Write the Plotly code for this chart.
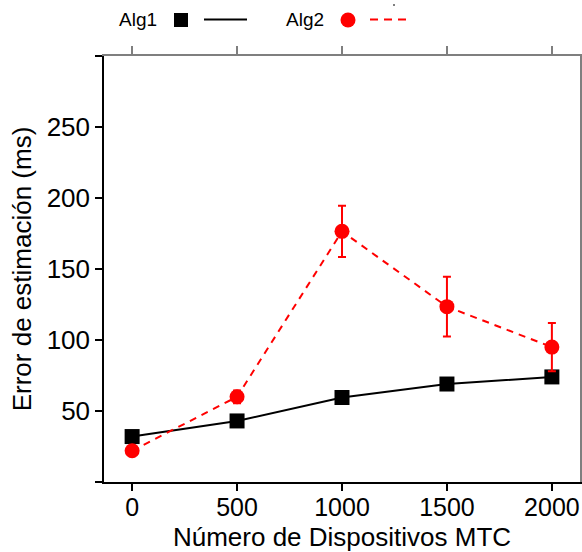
import plotly.graph_objects as go

# ---- data ----
devices = [0, 500, 1000, 1500, 2000]
alg1 = [32, 43, 59.5, 69, 74]
alg2 = [22, 60, 176.5, 123.5, 95]
alg2_err = [0, 4.5, 18, 21, 17]

y_tickvals = [0, 50, 100, 150, 200, 250, 300]
y_ticktext = ["", "50", "100", "150", "200", "250", ""]
x_tickvals = [0, 500, 1000, 1500, 2000]

FONT = "Liberation Sans, Arial, sans-serif"
W, H = 582, 552
ML, MR, MT, MB = 104, 2, 56, 70
PW, PH = W - ML - MR, H - MT - MB

def px(x):
    return (x - ML) / PW

def py(y):
    return (H - MB - y) / PH

fig = go.Figure()

fig.add_trace(go.Scatter(
    x=devices, y=alg1, mode="lines+markers", name="Alg1",
    line=dict(color="black", width=2),
    marker=dict(symbol="square", size=15, color="black"),
    showlegend=False,
))
fig.add_trace(go.Scatter(
    x=devices, y=alg2, mode="lines+markers", name="Alg2",
    line=dict(color="red", width=2, dash="7px,6px"),
    marker=dict(symbol="circle", size=15, color="red"),
    error_y=dict(type="data", array=alg2_err, visible=True,
                 color="red", thickness=2, width=4),
    showlegend=False,
))
# invisible trace to anchor the mirrored (grey) top/right axes
fig.add_trace(go.Scatter(
    x=devices, y=alg1, xaxis="x2", yaxis="y2", mode="markers",
    marker=dict(opacity=0), hoverinfo="skip", showlegend=False,
))

fig.update_layout(
    width=W, height=H,
    margin=dict(l=ML, r=MR, t=MT, b=MB, autoexpand=False),
    paper_bgcolor="white", plot_bgcolor="white",
    font=dict(family=FONT, color="black"),
    xaxis=dict(
        range=[-134, 2134], tickvals=x_tickvals, automargin=False,
        showline=True, linecolor="black", linewidth=1.5,
        ticks="outside", ticklen=7, tickwidth=1.5, tickcolor="black",
        showgrid=False, zeroline=False, ticklabelstandoff=-5,
        tickfont=dict(size=25, family=FONT),
        title=dict(text="Número de Dispositivos MTC",
                   font=dict(size=26, family=FONT), standoff=9),
    ),
    yaxis=dict(
        range=[0, 300], tickvals=y_tickvals, ticktext=y_ticktext, automargin=False,
        showline=True, linecolor="black", linewidth=1.5,
        ticks="outside", ticklen=7, tickwidth=1.5, tickcolor="black",
        showgrid=False, zeroline=False,
        tickfont=dict(size=26, family=FONT),
        title=dict(text="Error de estimación (ms)",
                   font=dict(size=26, family=FONT), standoff=8),
    ),
    xaxis2=dict(
        overlaying="x", side="top", range=[-134, 2134], tickvals=x_tickvals,
        automargin=False,
        showline=True, linecolor="#7f7f7f", linewidth=2,
        ticks="outside", ticklen=8, tickwidth=2, tickcolor="#7f7f7f",
        showticklabels=False, showgrid=False, zeroline=False,
    ),
    yaxis2=dict(
        overlaying="y", side="right", range=[0, 300],
        tickvals=[50, 100, 150, 200, 250], automargin=False,
        showline=True, linecolor="#7f7f7f", linewidth=2,
        ticks="outside", ticklen=7, tickwidth=2, tickcolor="#7f7f7f",
        showticklabels=False, showgrid=False, zeroline=False,
    ),
)

# ---- custom legend (text before symbol) ----
ly = py(20)
fig.add_annotation(x=px(117), y=ly, xref="paper", yref="paper",
                   text="Alg1", showarrow=False, xanchor="left", yanchor="middle",
                   font=dict(size=19, family=FONT, color="black"))
fig.add_annotation(x=px(284), y=ly, xref="paper", yref="paper",
                   text="Alg2", showarrow=False, xanchor="left", yanchor="middle",
                   font=dict(size=19, family=FONT, color="black"))
fig.add_shape(type="rect", xref="paper", yref="paper",
              x0=px(174), x1=px(188), y0=py(27), y1=py(13),
              fillcolor="black", line=dict(width=0))
fig.add_shape(type="line", xref="paper", yref="paper",
              x0=px(204), x1=px(247), y0=py(19.5), y1=py(19.5),
              line=dict(color="black", width=2))
fig.add_shape(type="circle", xref="paper", yref="paper",
              x0=px(340.5), x1=px(355.5), y0=py(27.5), y1=py(12.5),
              fillcolor="red", line=dict(width=0))
fig.add_shape(type="line", xref="paper", yref="paper",
              x0=px(370), x1=px(408), y0=py(19.5), y1=py(19.5),
              line=dict(color="red", width=2, dash="8px,6px"))
fig.add_shape(type="line", xref="paper", yref="paper",
              x0=px(393), x1=px(395), y0=py(5), y1=py(5),
              line=dict(color="black", width=1))

fig.write_html("out.html")
